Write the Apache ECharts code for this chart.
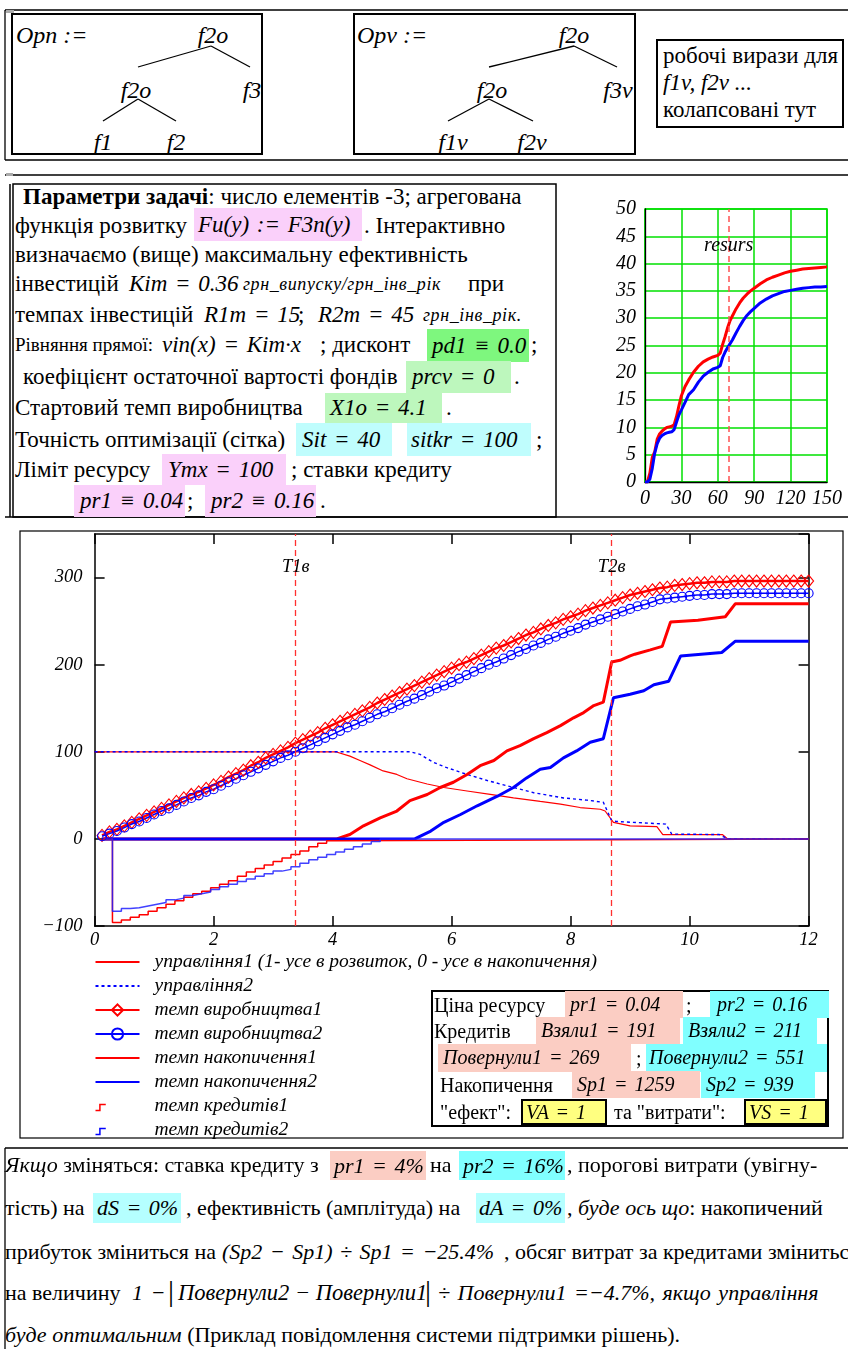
<!DOCTYPE html>
<html>
<head>
<meta charset="utf-8">
<script src="https://cdn.jsdelivr.net/npm/echarts@6/dist/echarts.min.js"></script>
<style>
  * { font-family: 'Liberation Serif', serif; }
  body { margin: 0; width: 848px; height: 1349px; background: #fff; position: relative; overflow: hidden; color: #000; }
  .a { position: absolute; white-space: nowrap; }
  .i { font-style: italic; }
  .m { font-style: italic; font-size: 23px; word-spacing: 2px; }
  .t { font-size: 23px; height: 30px; line-height: 30px; }
  .sm { font-size: 18px; letter-spacing: 0.6px; }
  .r { font-size: 20px; height: 26px; line-height: 26px; }
  .b { font-size: 22px; height: 30px; line-height: 30px; }
  .hb { position: absolute; box-sizing: border-box; white-space: nowrap; font-style: italic; font-size: 23px; word-spacing: 2px; }
  .ib { position: absolute; box-sizing: border-box; white-space: nowrap; font-style: italic; font-size: 20px; word-spacing: 2px; }
  .pk { background: #fad0fa; }
  .g1 { background: #7ef77e; }
  .g2 { background: #bdf7bd; }
  .cy { background: #bffdfd; }
  .sa { background: #fbcdc3; }
  .cb { background: #80ffff; }
  .lc { background: #b5ffff; }
  .ye { background: #ffff80; border: 2px solid #000; }
  .f { font-style: italic; font-size: 24px; line-height: 24px; transform: translate(-50%, -50%); }
  #small { position: absolute; left: 580px; top: 190px; width: 268px; height: 330px; }
  #main { position: absolute; left: 20px; top: 531px; width: 823px; height: 620px; }
</style>
</head>
<body>
<svg class="a" style="left:0;top:0" width="848" height="1349">
  <g stroke="#000" fill="none">
    <line x1="5" y1="10" x2="848" y2="10" stroke-width="1.3"/>
    <line x1="5" y1="10" x2="5" y2="160" stroke-width="1.3"/>
    <line x1="5" y1="160" x2="848" y2="160" stroke-width="1.3"/>
    <rect x="12" y="14" width="250" height="140" stroke-width="2"/>
    <rect x="354" y="14" width="281" height="140" stroke-width="2"/>
    <rect x="657" y="40" width="186" height="87" stroke-width="2"/>
    <g stroke-width="1.3">
      <line x1="211" y1="46" x2="138" y2="67"/><line x1="211" y1="46" x2="250" y2="67"/>
      <line x1="138" y1="99" x2="103" y2="121"/><line x1="138" y1="99" x2="176" y2="121"/>
      <line x1="574" y1="46" x2="489" y2="67"/><line x1="574" y1="46" x2="617" y2="67"/>
      <line x1="489" y1="99" x2="448" y2="121"/><line x1="489" y1="99" x2="533" y2="121"/>
    </g>
    <line x1="5" y1="175" x2="848" y2="175" stroke-width="1.3"/>
    <rect x="13" y="184" width="543" height="333" stroke-width="1.5"/>
    <line x1="10" y1="184" x2="10" y2="517" stroke-width="1.5"/>
    <line x1="5" y1="517" x2="848" y2="517" stroke-width="1.3"/>
    <rect x="20" y="531" width="823" height="607" stroke-width="1.2"/>
    <line x1="5" y1="1148" x2="848" y2="1148" stroke-width="1.3"/>
    <line x1="5" y1="1148" x2="5" y2="1349" stroke-width="1.3"/>
  </g>
  <rect x="6" y="10" width="8" height="3" fill="#aaa"/>
  <rect x="6" y="173" width="7" height="3" fill="#aaa"/>
</svg>

<!-- дерева -->
<div class="a i" style="left:16px;top:22px;font-size:24px;line-height:26px">Opn :=</div>
<div class="a f" style="left:213px;top:35px">f2o</div>
<div class="a f" style="left:136px;top:90px">f2o</div>
<div class="a f" style="left:252px;top:90px">f3</div>
<div class="a f" style="left:103px;top:142px">f1</div>
<div class="a f" style="left:176px;top:142px">f2</div>
<div class="a i" style="left:357px;top:22px;font-size:24px;line-height:26px">Opv :=</div>
<div class="a f" style="left:574px;top:35px">f2o</div>
<div class="a f" style="left:492px;top:90px">f2o</div>
<div class="a f" style="left:618px;top:90px">f3v</div>
<div class="a f" style="left:453px;top:142px">f1v</div>
<div class="a f" style="left:532px;top:142px">f2v</div>
<div class="a" style="left:663px;top:42px;font-size:23px;line-height:27px">робочі вирази для<br><i>f1v,  f2v ...</i><br>колапсовані тут</div>

<!-- параметри -->
<div class="a t" style="left:23px;top:182px"><b>Параметри задачі</b>: число елементів -3; агрегована</div>
<div class="a t" style="left:15px;top:211px">функція розвитку</div>
<div class="hb pk" style="left:194px;top:208px;width:168px;height:33px;line-height:33px;padding-left:4px">Fu(y) := F3n(y)</div>
<div class="a t" style="left:364px;top:211px">.  Інтерактивно</div>
<div class="a t" style="left:15px;top:240px">визначаємо (вище) максимальну ефективність</div>
<div class="a t" style="left:15px;top:269px">інвестицій</div>
<div class="a t m" style="left:129px;top:269px">Kim = 0.36</div>
<div class="a t i sm" style="left:243px;top:269px">грн_випуску/грн_інв_рік</div>
<div class="a t" style="left:468px;top:269px">при</div>
<div class="a t" style="left:15px;top:300px">темпах інвестицій</div>
<div class="a t m" style="left:204px;top:300px">R1m = 15</div>
<div class="a t" style="left:298px;top:300px">;</div>
<div class="a t m" style="left:318px;top:300px">R2m = 45</div>
<div class="a t i sm" style="left:423px;top:300px">грн_інв_рік.</div>
<div class="a t" style="left:15px;top:330px;font-size:19px">Рівняння прямої:</div>
<div class="a t m" style="left:162px;top:330px">vin(x) = Kim·x</div>
<div class="a t" style="left:320px;top:330px">; дисконт</div>
<div class="hb g1" style="left:427px;top:329px;width:102px;height:33px;line-height:33px;padding-left:5px">pd1 ≡ 0.0</div>
<div class="a t" style="left:531px;top:330px">;</div>
<div class="a t" style="left:23px;top:362px">коефіцієнт остаточної вартості фондів</div>
<div class="hb g2" style="left:406px;top:361px;width:105px;height:32px;line-height:32px;padding-left:6px">prcv = 0</div>
<div class="a t" style="left:514px;top:362px">.</div>
<div class="a t" style="left:15px;top:393px">Стартовий темп виробництва</div>
<div class="hb g2" style="left:325px;top:393px;width:117px;height:30px;line-height:30px;padding-left:5px">X1o = 4.1</div>
<div class="a t" style="left:446px;top:393px">.</div>
<div class="a t" style="left:15px;top:425px">Точність оптимізації (сітка)</div>
<div class="hb cy" style="left:296px;top:423px;width:96px;height:33px;line-height:33px;padding-left:6px">Sit = 40</div>
<div class="hb cy" style="left:407px;top:423px;width:124px;height:33px;line-height:33px;padding-left:4px">sitkr = 100</div>
<div class="a t" style="left:536px;top:425px">;</div>
<div class="a t" style="left:15px;top:455px">Ліміт ресурсу</div>
<div class="hb pk" style="left:162px;top:454px;width:124px;height:31px;line-height:31px;padding-left:6px">Ymx = 100</div>
<div class="a t" style="left:291px;top:455px">; ставки кредиту</div>
<div class="hb pk" style="left:74px;top:485px;width:111px;height:32px;line-height:32px;padding-left:6px">pr1 ≡ 0.04</div>
<div class="a t" style="left:187px;top:486px">;</div>
<div class="hb pk" style="left:205px;top:485px;width:111px;height:32px;line-height:32px;padding-left:6px">pr2 ≡ 0.16</div>
<div class="a t" style="left:320px;top:486px">.</div>

<div id="small"></div>
<div id="main"></div>

<!-- таблиця результатів -->
<div class="a" style="left:431px;top:990px;width:398px;height:137px;border:2px solid #000;box-sizing:border-box"></div>
<div class="a r" style="left:434px;top:992px">Ціна ресурсу</div>
<div class="ib r sa" style="left:565px;top:991px;width:118px;height:27px;padding-left:5px">pr1  =  0.04</div>
<div class="a r" style="left:686px;top:992px">;</div>
<div class="ib r cb" style="left:710px;top:991px;width:119px;height:27px;padding-left:7px">pr2  =  0.16</div>
<div class="a r" style="left:434px;top:1018px">Кредитів</div>
<div class="ib r sa" style="left:536px;top:1017px;width:144px;height:27px;padding-left:5px">Взяли1  =  191</div>
<div class="ib r cb" style="left:683px;top:1017px;width:134px;height:27px;padding-left:5px">Взяли2  =  211</div>
<div class="ib r sa" style="left:438px;top:1044px;width:193px;height:28px;padding-left:5px">Повернули1   =  269</div>
<div class="a r" style="left:636px;top:1045px">;</div>
<div class="ib r cb" style="left:646px;top:1044px;width:181px;height:28px;padding-left:3px">Повернули2   =  551</div>
<div class="a r" style="left:440px;top:1072px">Накопичення</div>
<div class="ib r sa" style="left:572px;top:1071px;width:128px;height:27px;padding-left:5px">Sp1  =  1259</div>
<div class="ib r cb" style="left:701px;top:1071px;width:114px;height:27px;padding-left:5px">Sp2  =  939</div>
<div class="a r" style="left:440px;top:1099px">"ефект":</div>
<div class="ib ye" style="left:521px;top:1099px;width:86px;height:26px;line-height:22px;padding-left:3px">VA  =  1</div>
<div class="a r" style="left:614px;top:1099px">та "витрати":</div>
<div class="ib ye" style="left:744px;top:1099px;width:83px;height:26px;line-height:22px;padding-left:3px">VS  =  1</div>

<!-- висновок -->
<div class="a b" style="left:5px;top:1150px"><i>Якщо</i> зміняться: ставка кредиту з</div>
<div class="ib b sa" style="left:330px;top:1151px;width:96px;height:29px;line-height:29px;font-size:22px;padding-left:4px">pr1 = 4%</div>
<div class="a b" style="left:430px;top:1150px">на</div>
<div class="ib b cb" style="left:459px;top:1151px;width:106px;height:29px;line-height:29px;font-size:22px;padding-left:4px">pr2 = 16%</div>
<div class="a b" style="left:567px;top:1150px">, порогові витрати (увігну-</div>
<div class="a b" style="left:5px;top:1193px">тість) на</div>
<div class="ib b lc" style="left:93px;top:1193px;width:88px;height:30px;line-height:30px;font-size:22px;padding-left:4px">dS = 0%</div>
<div class="a b" style="left:186px;top:1193px">, ефективність (амплітуда) на</div>
<div class="ib b lc" style="left:476px;top:1193px;width:89px;height:30px;line-height:30px;font-size:22px;padding-left:3px">dA = 0%</div>
<div class="a b" style="left:567px;top:1193px">, <i>буде ось що</i>: накопичений</div>
<div class="a b" style="left:5px;top:1237px">прибуток зміниться на</div>
<div class="a b m" style="left:222px;top:1237px">(Sp2 − Sp1) ÷ Sp1 = −25.4%</div>
<div class="a b" style="left:504px;top:1237px">, обсяг витрат за кредитами зміниться</div>
<div class="a b" style="left:5px;top:1278px">на величину</div>
<div class="a b m" style="left:132px;top:1278px">1 −</div>
<div class="a b" style="left:168px;top:1276px;font-size:30px">|</div>
<div class="a b i" style="left:178px;top:1278px;font-size:22.5px">Повернули2 − Повернули1</div>
<div class="a b" style="left:425px;top:1276px;font-size:30px">|</div>
<div class="a b m" style="left:438px;top:1278px">÷ Повернули1  =−4.7%, якщо управління</div>
<div class="a b" style="left:5px;top:1320px"><i>буде оптимальним</i> (Приклад повідомлення системи підтримки рішень).</div>

<script>
// ресурс (мала діаграма)
const resX = [0, 2, 4, 6, 8, 10, 12, 14, 16, 18, 20, 22, 24, 26, 28, 30, 33, 36, 40, 44, 48, 52, 56, 60, 62, 64, 66, 68, 70, 72, 75, 78, 81, 84, 87, 90, 95, 100, 105, 110, 115, 120, 125, 130, 135, 140, 145, 150];
const res1 = [0, 0, 1.6, 4.5, 5.5, 7.8, 8.8, 9.3, 9.7, 10, 10.1, 10.2, 10.5, 12, 14, 15.8, 17.5, 18.7, 20.1, 21.2, 22, 22.5, 22.9, 23.2, 23.6, 25.2, 26.6, 28.2, 29.5, 30.4, 31.7, 32.8, 33.7, 34.4, 35, 35.5, 36.3, 37, 37.5, 37.9, 38.3, 38.6, 38.8, 39, 39.1, 39.2, 39.3, 39.4];
const res2 = [0, 0, 0.5, 2.5, 5.3, 7, 8, 8.5, 8.8, 9, 9.1, 9.2, 9.6, 11, 12.3, 13.2, 14.6, 16, 16.9, 18.3, 19.4, 20.1, 20.7, 21, 21.3, 22.8, 23.8, 24.6, 25.3, 26, 27.3, 28.5, 29.6, 30.5, 31.2, 31.8, 32.8, 33.5, 34.1, 34.5, 34.9, 35.1, 35.3, 35.5, 35.6, 35.7, 35.7, 35.8];
const resursX = 69;

// основна діаграма
const prodT = [0.125, 0.25, 0.375, 0.5, 0.625, 0.75, 0.875, 1, 1.125, 1.25, 1.375, 1.5, 1.625, 1.75, 1.875, 2,
  2.125, 2.25, 2.375, 2.5, 2.625, 2.75, 2.875, 3, 3.125, 3.25, 3.375, 3.5, 3.625, 3.75, 3.875, 4,
  4.125, 4.25, 4.375, 4.5, 4.625, 4.75, 4.875, 5, 5.125, 5.25, 5.375, 5.5, 5.625, 5.75, 5.875, 6,
  6.125, 6.25, 6.375, 6.5, 6.625, 6.75, 6.875, 7, 7.125, 7.25, 7.375, 7.5, 7.625, 7.75, 7.875, 8,
  8.125, 8.25, 8.375, 8.5, 8.625, 8.75, 8.875, 9, 9.125, 9.25, 9.375, 9.5, 9.625, 9.75, 9.875, 10,
  10.125, 10.25, 10.375, 10.5, 10.625, 10.75, 10.875, 11, 11.125, 11.25, 11.375, 11.5, 11.625, 11.75, 11.875, 12];
const prod1 = [4, 8, 11, 15, 19, 23, 27, 31, 35, 39, 43, 47, 51, 54, 58, 62,
  66, 71, 75, 79, 84, 88, 93, 97, 101, 105, 110, 114, 118, 122, 127, 131,
  135, 139, 143, 147, 151, 156, 160, 164, 168, 172, 176, 180, 184, 188, 192, 196,
  200, 203, 207, 211, 215, 219, 222, 226, 230, 234, 237, 241, 245, 248, 252, 255,
  258, 262, 265, 268, 271, 274, 277, 280, 282, 284, 286, 288, 289, 291, 292, 293,
  294, 294, 295, 295, 295, 296, 296, 296, 296, 296, 296, 296, 296, 296, 296, 296];
const prod2 = [3, 6, 9, 13, 17, 20, 24, 28, 32, 35, 39, 43, 47, 50, 54, 57,
  61, 65, 69, 73, 77, 81, 85, 89, 93, 96, 100, 104, 108, 112, 116, 120,
  124, 128, 131, 135, 139, 143, 146, 150, 154, 158, 161, 165, 169, 173, 176, 180,
  184, 188, 192, 196, 200, 203, 207, 211, 215, 218, 222, 225, 229, 232, 236, 239,
  242, 246, 249, 252, 255, 258, 261, 264, 267, 269, 272, 275, 276, 277, 278, 279,
  280, 280, 281, 281, 281, 282, 282, 282, 282, 282, 282, 282, 282, 282, 282, 282];

const ctrlT1 = [0, 4.05, 4.29, 4.46, 4.63, 4.85, 5.08, 5.25, 5.59, 5.87, 6.26, 6.65, 7.04, 7.49, 7.83, 8.16, 8.5, 8.58, 8.72, 9.0, 9.45, 9.55, 10.55, 10.64, 12];
const ctrl1 = [100, 100, 95, 90, 85, 78, 74, 69, 63, 59, 55, 51, 47, 43, 40, 36, 34, 32, 19, 15, 14, 5, 5, 0, 0];
const ctrlT2 = [0, 5.3, 5.47, 5.69, 5.91, 6.26, 6.6, 6.93, 7.38, 7.88, 8.27, 8.55, 8.69, 8.77, 9.6, 9.7, 10.5, 10.64, 12];
const ctrl2 = [100, 100, 97, 88, 82, 74, 67, 61, 53, 47, 44.5, 42, 21, 20, 17, 5.5, 5, 0, 0];

const accT1 = [0.12, 4.07, 4.29, 4.52, 4.8, 5.08, 5.3, 5.59, 5.81, 6.03, 6.26, 6.48, 6.71, 6.93, 7.15, 7.38, 7.6, 7.83, 8.05, 8.22, 8.39, 8.55, 8.69, 8.83, 9.0, 9.08, 9.34, 9.54, 9.68, 10.14, 10.6, 10.77, 12];
const acc1 = [0, 0, 5, 15, 24, 32, 44, 51, 59, 65, 74, 84, 90, 101, 107, 115, 122, 130, 139, 145, 153, 157, 203, 205, 210, 212, 217, 221, 249, 251, 255, 270, 270];
const accT2 = [0.12, 5.38, 5.65, 5.87, 6.15, 6.43, 6.77, 7.04, 7.26, 7.49, 7.66, 7.88, 8.1, 8.33, 8.55, 8.72, 9.0, 9.23, 9.4, 9.65, 9.85, 10.54, 10.77, 12];
const acc2 = [0, 0, 9, 19, 28, 38, 49, 59, 70, 80, 82, 93, 101, 111, 115, 162, 166, 170, 177, 181, 210, 214, 227, 227];

const credT1 = [0.15, 0.3, 0.45, 0.6, 0.75, 0.9, 1.05, 1.2, 1.35, 1.5, 1.65, 1.8, 1.95, 2.1, 2.25, 2.4, 2.55, 2.7, 2.85, 3.0, 3.15, 3.3, 3.45, 3.6, 3.75, 3.9, 4.05, 12];
const cred1 = [0, -96, -93, -90, -87, -83, -79, -75, -71, -67, -63, -60, -56, -52, -48, -43, -38, -34, -30, -26, -22, -18, -14, -9, -5, -2, 0, 0];
const credT2 = [0.15, 0.3, 0.45, 0.6, 0.75, 0.9, 1.05, 1.2, 1.35, 1.5, 1.65, 1.8, 1.95, 2.1, 2.25, 2.4, 2.55, 2.7, 2.85, 3.0, 3.15, 3.3, 3.45, 3.6, 3.75, 3.9, 4.05, 4.2, 4.35, 4.5, 4.65, 4.8, 12];
const cred2 = [0, -83, -80, -79, -77, -75, -73, -70, -68, -65, -63, -61, -58, -55, -52, -49, -46, -43, -40, -37, -35, -32, -28, -24, -21, -18, -15, -12, -9, -6, -3, 0, 0];

const T1v = 3.38, T2v = 8.69, tLabelY = 312;
const names = ['управління1 (1- усе в розвиток, 0 - усе в накопичення)', 'управління2', 'темп виробництва1',
  'темп виробництва2', 'темп накопичення1', 'темп накопичення2', 'темп кредитів1', 'темп кредитів2'];

const FONT = 'Liberation Serif';
const pairs = (xs, ys) => xs.map((x, i) => [x, ys[i]]);
const lbl = { fontFamily: FONT, fontStyle: 'italic', fontSize: 20, color: '#000' };

// --- мала діаграма
const small = echarts.init(document.getElementById('small'));
small.setOption({
  animation: false,
  grid: { left: 65, top: 19, width: 182, height: 273, show: true, borderColor: '#00d800', borderWidth: 1.5 },
  xAxis: {
    type: 'value', min: 0, max: 150, interval: 30,
    axisLine: { show: true, onZero: false, lineStyle: { color: '#000', width: 1.3 } },
    axisTick: { show: false },
    axisLabel: Object.assign({ margin: 7 }, lbl),
    splitLine: { show: true, lineStyle: { color: '#00e000', width: 1.5 } }
  },
  yAxis: {
    type: 'value', min: 0, max: 50, interval: 5,
    axisLine: { show: true, lineStyle: { color: '#000', width: 1.3 } },
    axisTick: { show: false },
    axisLabel: Object.assign({ margin: 9 }, lbl),
    splitLine: { show: true, lineStyle: { color: '#00e000', width: 1.5 } }
  },
  series: [
    {
      type: 'line', data: pairs(resX, res1), showSymbol: false, symbol: 'none',
      lineStyle: { color: '#ff0000', width: 3 },
      markLine: {
        silent: true, symbol: 'none', label: { show: false },
        lineStyle: { color: '#ff5050', type: [6, 4], width: 1.5 },
        data: [{ xAxis: resursX }]
      },
      markPoint: {
        silent: true, symbol: 'rect', symbolSize: 1, itemStyle: { color: 'rgba(0,0,0,0)' },
        label: Object.assign({ show: true, position: 'inside', formatter: '{b}' }, lbl),
        data: [{ name: 'resurs', coord: [resursX, 43.2] }]
      }
    },
    { type: 'line', data: pairs(resX, res2), showSymbol: false, symbol: 'none', lineStyle: { color: '#0000ff', width: 3 } }
  ]
});

// --- основна діаграма
const main = echarts.init(document.getElementById('main'));
const axisBase = {
  type: 'value',
  axisLine: { show: true, onZero: false, lineStyle: { color: '#000', width: 1.5 } },
  axisTick: { show: true, inside: true, length: 10, lineStyle: { color: '#000', width: 1.5 } },
  splitLine: { show: false }
};
const hidden = { show: false };
const stepIcon = 'path://M0,6 L3,6 L3,2 L7,2 M30,0 L30,0';
const tick = { fontFamily: FONT, fontStyle: 'italic', fontSize: 18.5, color: '#000' };

main.setOption({
  animation: false,
  grid: { left: 74.6, top: 3, width: 714, height: 392 },
  legend: {
    orient: 'vertical', left: 73, top: 421, padding: 0, itemWidth: 44, itemHeight: 14, itemGap: 4,
    selectedMode: false,
    textStyle: { fontFamily: FONT, fontStyle: 'italic', fontSize: 19.5, color: '#000', padding: [0, 0, 0, 10] },
    data: [
      { name: names[0], itemStyle: { opacity: 0 } },
      { name: names[1], itemStyle: { opacity: 0 } },
      { name: names[2] },
      { name: names[3] },
      { name: names[4], itemStyle: { opacity: 0 } },
      { name: names[5], itemStyle: { opacity: 0 } },
      { name: names[6], icon: stepIcon, itemStyle: { color: 'none', borderColor: '#ff0000', borderWidth: 1.5 } },
      { name: names[7], icon: stepIcon, itemStyle: { color: 'none', borderColor: '#0000ff', borderWidth: 1.5 } }
    ]
  },
  xAxis: [
    Object.assign({}, axisBase, { min: 0, max: 12, interval: 2, position: 'bottom', axisLabel: Object.assign({ margin: 5 }, tick) }),
    Object.assign({}, axisBase, { min: 0, max: 12, interval: 2, position: 'top', axisLabel: hidden })
  ],
  yAxis: [
    Object.assign({}, axisBase, {
      min: -100, max: 350, interval: 100, position: 'left',
      axisLabel: Object.assign({ margin: 12, showMaxLabel: false, formatter: v => (v < 0 ? '−' + (-v) : String(v)) }, tick)
    }),
    Object.assign({}, axisBase, { min: -100, max: 350, interval: 100, position: 'right', axisLabel: hidden })
  ],
  series: [
    {
      name: names[0], type: 'line', data: pairs(ctrlT1, ctrl1), symbol: 'none',
      lineStyle: { color: '#ff0000', width: 1.2 }, itemStyle: { color: '#ff0000' }
    },
    {
      name: names[1], type: 'line', data: pairs(ctrlT2, ctrl2), symbol: 'none',
      lineStyle: { color: '#0000ff', width: 1.4, type: [3, 3] }, itemStyle: { color: '#0000ff' }
    },
    {
      name: names[2], type: 'line', data: pairs(prodT, prod1), symbol: 'diamond', symbolSize: [10, 12],
      lineStyle: { color: '#ff0000', width: 2.5 },
      itemStyle: { color: 'rgba(255,255,255,0)', borderColor: '#ff0000', borderWidth: 1.1 },
      markLine: {
        silent: true, symbol: 'none', label: { show: false },
        itemStyle: { color: '#ff3030' },
        lineStyle: { color: '#ff3030', type: [6, 4], width: 1.3 },
        data: [{ xAxis: T1v }, { xAxis: T2v }]
      },
      markPoint: {
        silent: true, symbol: 'rect', symbolSize: 1, itemStyle: { color: 'rgba(0,0,0,0)', borderWidth: 0 },
        label: Object.assign({ show: true, position: 'inside', formatter: '{b}' }, tick),
        data: [{ name: 'T1в', coord: [T1v, tLabelY] }, { name: 'T2в', coord: [T2v, tLabelY] }]
      }
    },
    {
      name: names[3], type: 'line', data: pairs(prodT, prod2), symbol: 'circle', symbolSize: 9,
      lineStyle: { color: '#0000ff', width: 1.5 },
      itemStyle: { color: 'rgba(255,255,255,0)', borderColor: '#0000ff', borderWidth: 1.1 }
    },
    {
      name: names[4], type: 'line', data: pairs(accT1, acc1), symbol: 'none',
      lineStyle: { color: '#ff0000', width: 3 }, itemStyle: { color: '#ff0000' }
    },
    {
      name: names[5], type: 'line', data: pairs(accT2, acc2), symbol: 'none',
      lineStyle: { color: '#0000ff', width: 3 }, itemStyle: { color: '#0000ff' }
    },
    {
      name: names[6], type: 'line', step: 'end', data: pairs(credT1, cred1), symbol: 'none',
      lineStyle: { color: '#ff0000', width: 1.5 }, itemStyle: { color: '#ff0000' }
    },
    {
      name: names[7], type: 'line', step: 'end', data: pairs(credT2, cred2), symbol: 'none',
      lineStyle: { color: '#2020ff', width: 1.5, opacity: 0.85 }, itemStyle: { color: '#0000ff' }
    }
  ]
});
</script>
</body>
</html>
